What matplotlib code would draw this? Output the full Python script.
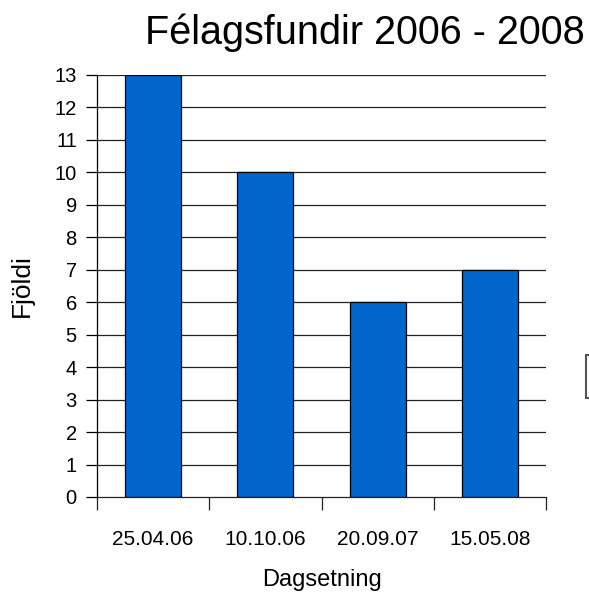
import numpy as np
import matplotlib.pyplot as plt
from matplotlib.patches import Rectangle

plt.rcParams['font.family'] = ['Liberation Sans', 'DejaVu Sans']

# gögn
dagsetningar = ['25.04.06', '10.10.06', '20.09.07', '15.05.08']
fjoldi = [13, 10, 6, 7]
y_ticks = list(range(0, 14))

W, H = 589, 595
fig = plt.figure(figsize=(W / 100, H / 100), dpi=100)
ax = fig.add_axes([97 / W, 1 - 497 / H, (546 - 97) / W, (497 - 75) / H])

x = np.arange(len(dagsetningar))
ax.set_axisbelow(True)
for y in y_ticks[1:]:
    ax.axhline(y, color='#222222', lw=0.9, zorder=0)
ax.bar(x, fjoldi, width=0.5, color='#0066cc', edgecolor='black', lw=0.9, zorder=2)

ax.set_xlim(-0.5, len(dagsetningar) - 0.5)
ax.set_ylim(0, 13)
ax.set_yticks(y_ticks)
ax.tick_params(axis='y', length=8, width=0.9, pad=6.5, labelsize=14.5)

# ticks milli súlna, merkingar undir súlum
ax.set_xticks(np.arange(len(dagsetningar) + 1) - 0.5)
ax.set_xticklabels([])
ax.set_xticks(x, minor=True)
ax.set_xticklabels(dagsetningar, minor=True)
ax.tick_params(axis='x', which='major', length=9.5, width=0.9, color='#222222')
ax.tick_params(axis='x', which='minor', length=0, pad=24, labelsize=15)

for s in ['top', 'right']:
    ax.spines[s].set_visible(False)
ax.spines['left'].set_linewidth(0.9)
ax.spines['bottom'].set_linewidth(0.9)
ax.spines['bottom'].set_color('#222222')

fig.text(365 / W, 1 - 33 / H, 'Félagsfundir 2006 - 2008', ha='center', va='center', fontsize=28.5)
fig.text(22 / W, 1 - 286 / H, 'Fjöldi', rotation=90, ha='center', va='center', fontsize=19)
fig.text(322 / W, 1 - 580 / H, 'Dagsetning', ha='center', va='center', fontsize=17)

# brot af skýringarkassa við hægri brún
fig.patches.append(Rectangle((586 / W, 1 - 398 / H), 20 / W, 43 / H, transform=fig.transFigure,
                             facecolor='white', edgecolor='#555555', lw=1.5))

fig.savefig('out.png', dpi=100)
